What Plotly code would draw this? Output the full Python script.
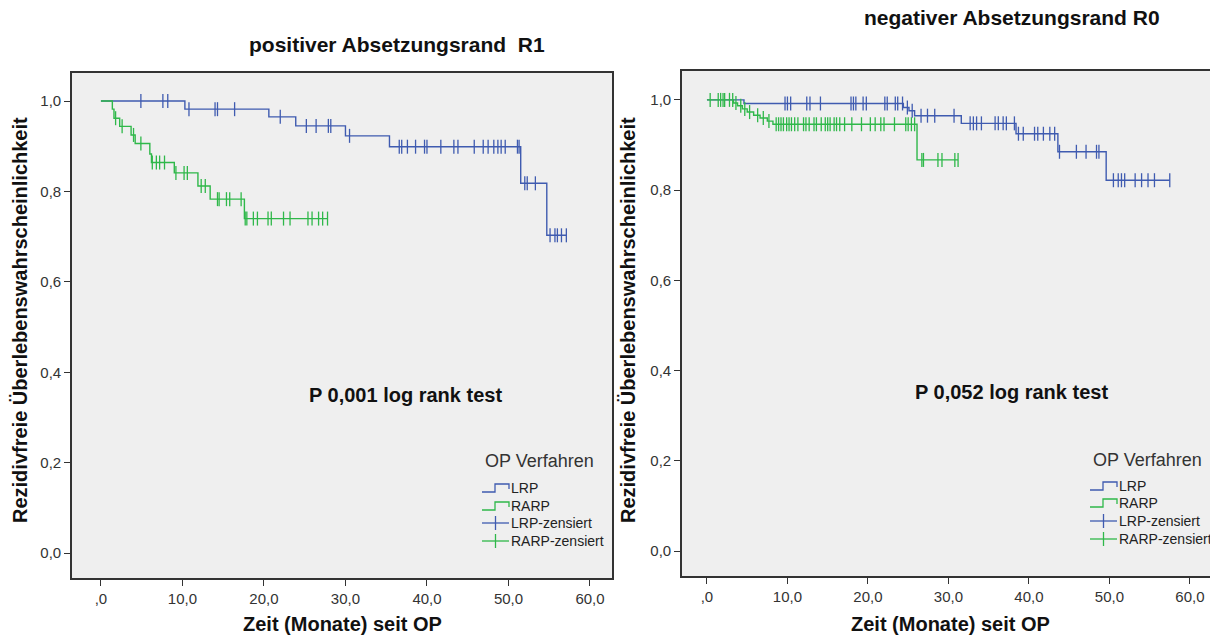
import plotly.graph_objects as go

# ---------------- data ----------------
x_tickvals = [0, 10, 20, 30, 40, 50, 60]
x_ticktext = [",0", "10,0", "20,0", "30,0", "40,0", "50,0", "60,0"]
y_tickvals = [0.0, 0.2, 0.4, 0.6, 0.8, 1.0]
y_ticktext = ["0,0", "0,2", "0,4", "0,6", "0,8", "1,0"]

# Left panel: positiver Absetzungsrand R1
r1_lrp_t = [0, 10.3, 20.6, 23.9, 30.0, 35.4, 51.5, 54.7, 57.1]
r1_lrp_s = [1.0, 0.982, 0.965, 0.945, 0.923, 0.899, 0.818, 0.703, 0.703]
r1_lrp_cens = [4.9, 7.6, 8.2, 10.8, 14.0, 14.3, 16.4, 22.0, 25.2, 26.4, 27.9, 28.2,
               30.5, 36.6, 36.9, 37.6, 38.6, 39.7, 40.0, 41.7, 43.3, 43.8, 45.8,
               46.9, 47.5, 48.2, 48.7, 49.1, 49.6, 51.1, 51.3, 52.0, 52.3, 53.3,
               55.1, 55.7, 56.0, 56.5, 57.1]
r1_rarp_t = [0, 1.4, 1.6, 2.3, 3.7, 4.2, 6.0, 6.2, 9.0, 11.9, 13.4, 17.6, 27.8]
r1_rarp_s = [1.0, 0.982, 0.962, 0.944, 0.925, 0.906, 0.883, 0.864, 0.841, 0.812,
             0.783, 0.740, 0.740]
r1_rarp_cens = [1.8, 2.6, 4.0, 4.9, 6.3, 6.8, 7.2, 7.8, 9.2, 10.2, 10.6, 12.3, 12.8,
                14.3, 14.5, 15.4, 15.8, 17.2, 17.7, 17.9, 18.7, 19.2, 20.5, 20.9,
                22.4, 23.2, 25.4, 25.9, 26.7, 27.2, 27.8]

# Right panel: negativer Absetzungsrand R0
r0_lrp_t = [0, 4.6, 24.4, 25.1, 25.8, 31.6, 38.4, 43.6, 49.6, 57.5]
r0_lrp_s = [1.0, 0.992, 0.983, 0.976, 0.965, 0.948, 0.925, 0.885, 0.822, 0.822]
r0_lrp_cens = [9.7, 10.0, 10.4, 12.4, 12.8, 14.1, 17.9, 18.2, 18.5, 19.4, 19.8,
               22.1, 22.4, 23.4, 23.7, 24.3, 24.9, 25.5, 26.6, 27.4, 28.3, 30.7,
               32.7, 33.1, 33.5, 34.1, 35.8, 36.2, 36.8, 37.2, 38.2, 38.7, 39.3,
               40.7, 41.1, 41.8, 42.6, 43.2, 43.8, 45.9, 47.1, 48.4, 48.7, 50.5,
               51.1, 51.5, 51.9, 53.2, 54.0, 54.8, 55.6, 57.5]
r0_rarp_t = [0, 3.3, 3.8, 4.4, 5.0, 5.8, 6.6, 7.5, 8.2, 26.1, 31.2]
r0_rarp_s = [1.0, 0.993, 0.987, 0.980, 0.973, 0.966, 0.960, 0.953, 0.946, 0.867, 0.867]
r0_rarp_cens = [0.4, 1.4, 1.7, 2.0, 2.2, 2.8, 3.2, 3.6, 4.2, 4.7, 5.3, 6.3, 7.0, 7.7,
                8.6, 8.9, 9.2, 9.5, 9.9, 10.2, 10.5, 10.9, 11.3, 12.0, 12.3, 12.7,
                13.3, 13.6, 14.2, 14.7, 15.0, 15.3, 15.8, 16.1, 16.5, 17.1, 18.0,
                19.2, 20.3, 20.9, 21.6, 22.0, 23.3, 24.7, 25.0, 25.4, 25.8, 26.7,
                26.9, 28.7, 29.2, 30.8, 31.2]

BLUE = "#3f5bb0"
GREEN = "#2fb84a"
W, H = 1210, 635
FONT = "Liberation Sans, Arial, sans-serif"


def km_at(ts, ss, t):
    v = ss[0]
    for ti, si in zip(ts, ss):
        if ti <= t:
            v = si
    return v


fig = go.Figure()


def add_panel(xa, ya, lt, ls, lc, rt, rs, rc):
    for ts, ss, cs, col in [(lt, ls, lc, BLUE), (rt, rs, rc, GREEN)]:
        fig.add_trace(go.Scatter(x=ts, y=ss, mode="lines", line=dict(color=col, width=1.4, shape="hv"),
                                 xaxis=xa, yaxis=ya, showlegend=False, hoverinfo="skip"))
        fig.add_trace(go.Scatter(x=cs, y=[km_at(ts, ss, c) for c in cs], mode="markers",
                                 marker=dict(symbol="line-ns", size=10, line=dict(color=col, width=1.3)),
                                 xaxis=xa, yaxis=ya, showlegend=False, hoverinfo="skip"))


add_panel("x", "y", r1_lrp_t, r1_lrp_s, r1_lrp_cens, r1_rarp_t, r1_rarp_s, r1_rarp_cens)
add_panel("x2", "y2", r0_lrp_t, r0_lrp_s, r0_lrp_cens, r0_rarp_t, r0_rarp_s, r0_rarp_cens)


def px(x):
    return x / W


def py(y):
    return 1 - y / H


axis_common = dict(showgrid=False, zeroline=False, ticks="outside", ticklen=6, tickwidth=1.3,
                   tickcolor="#333", linecolor="#333", linewidth=1.6, showline=True,
                   tickfont=dict(family=FONT, size=15, color="#333"))

fig.update_layout(
    width=W, height=H, margin=dict(l=0, r=0, t=0, b=0),
    paper_bgcolor="white", plot_bgcolor="#efefef", showlegend=False,
    xaxis=dict(domain=[px(72), px(612)], range=[-3.55, 62.7], tickvals=x_tickvals,
               ticktext=x_ticktext, mirror=True, anchor="y", **axis_common),
    yaxis=dict(domain=[py(578), py(73)], range=[-0.055, 1.062], tickvals=y_tickvals,
               ticktext=y_ticktext, mirror=True, anchor="x", **axis_common),
    xaxis2=dict(domain=[px(682), 1.0], range=[-3.1, 62.5], tickvals=x_tickvals,
                ticktext=x_ticktext, mirror=True, anchor="y2", **axis_common),
    yaxis2=dict(domain=[py(576), py(71)], range=[-0.055, 1.064], tickvals=y_tickvals,
                ticktext=y_ticktext, mirror=False, anchor="x2", **axis_common),
)

ann = []
shapes = []


def text(x, y, s, size, bold=False, angle=0, color="#111", xanchor="center"):
    ann.append(dict(x=px(x), y=py(y), xref="paper", yref="paper", text=f"<b>{s}</b>" if bold else s,
                    showarrow=False, textangle=angle, xanchor=xanchor, yanchor="middle",
                    font=dict(family=FONT, size=size, color=color)))


# Titles
text(397, 45, "positiver Absetzungsrand  R1", 21, bold=True)
text(1012, 18, "negativer Absetzungsrand R0", 21, bold=True)
# Axis titles
text(342, 624, "Zeit (Monate) seit OP", 20, bold=True)
text(950, 624, "Zeit (Monate) seit OP", 20, bold=True)
text(20, 320, "Rezidivfreie Überlebenswahrscheinlichkeit", 20, bold=True, angle=-90)
text(628, 320, "Rezidivfreie Überlebenswahrscheinlichkeit", 20, bold=True, angle=-90)
# log-rank annotations
text(405, 395, "P 0,001 log rank test", 20, bold=True)
text(1012, 392, "P 0,052 log rank test", 20, bold=True)


def legend(x0, ytitle, ys):
    text(x0 + 57, ytitle, "OP Verfahren", 18, color="#333")
    labels = ["LRP", "RARP", "LRP-zensiert", "RARP-zensiert"]
    cols = [BLUE, GREEN, BLUE, GREEN]
    for i, (lab, col, yy) in enumerate(zip(labels, cols, ys)):
        if i < 2:
            path = (f"M {px(x0)},{py(yy+4)} L {px(x0+13)},{py(yy+4)} L {px(x0+13)},{py(yy-4)} "
                    f"L {px(x0+27)},{py(yy-4)} L {px(x0+27)},{py(yy+1)}")
            shapes.append(dict(type="path", xref="paper", yref="paper", path=path,
                               line=dict(color=col, width=1.3)))
        else:
            shapes.append(dict(type="line", xref="paper", yref="paper", x0=px(x0), x1=px(x0+27),
                               y0=py(yy), y1=py(yy), line=dict(color=col, width=1.3)))
            shapes.append(dict(type="line", xref="paper", yref="paper", x0=px(x0+13.5), x1=px(x0+13.5),
                               y0=py(yy-7), y1=py(yy+7), line=dict(color=col, width=1.3)))
        text(x0 + 27, yy, lab, 14, color="#222", xanchor="left")


legend(482, 461, [488, 506, 523, 541])
legend(1090, 460, [486, 503, 521, 539])

fig.update_layout(annotations=ann, shapes=shapes)
fig.write_html("out.html", config={"displayModeBar": False},
               post_script="document.body.style.margin='0';document.body.style.overflow='hidden';")
